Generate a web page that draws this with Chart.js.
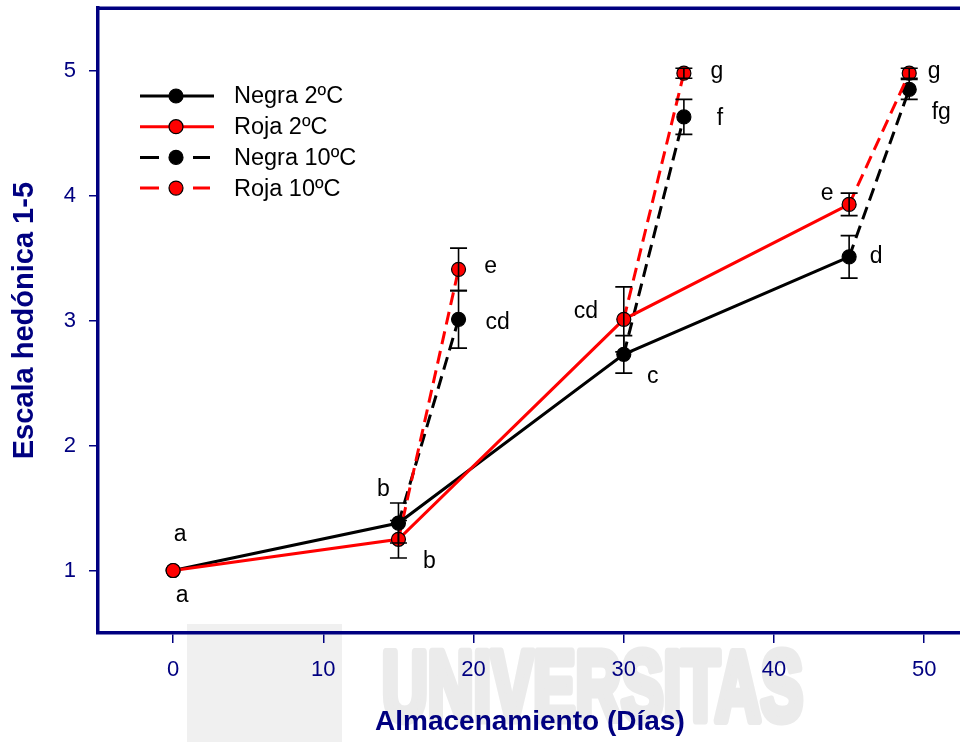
<!DOCTYPE html>
<html>
<head>
<meta charset="utf-8">
<script src="https://cdn.jsdelivr.net/npm/chart.js@4.4.1/dist/chart.umd.min.js"></script>
<style>
  html, body { margin: 0; padding: 0; background: #fff; overflow: hidden; }
  #box { width: 960px; height: 742px; overflow: hidden; }
</style>
</head>
<body>
<div id="box"><canvas id="chart" width="970" height="742"></canvas></div>
<script>
// storage days and hedonic scores (mean, error)
const days2 = [0, 15, 30, 45]
const negra2 = [1.0, 1.38, 2.73, 3.51]
const negra2Err = [0, 0.16, 0.15, 0.17]
const roja2 = [1.0, 1.25, 3.01, 3.93]
const roja2Err = [0, 0.15, 0.26, 0.09]

// 10ºC branches start at the 2ºC point of days 15, 30, 45
const days10 = [19, 34, 49]
const negra10 = [3.01, 4.63, 4.85]
const negra10Err = [0.23, 0.14, 0.08]
const roja10 = [3.41, 4.98, 4.98]
const roja10Err = [0.17, 0.04, 0.04]

// significance letters
const negra2Letters = ['a', 'b', 'c', 'd']
const roja2Letters = ['a', 'b', 'cd', 'e']
const negra10Letters = ['cd', 'f', 'fg']
const roja10Letters = ['e', 'g', 'g']

const xTicks = [0, 10, 20, 30, 40, 50]
const yTicks = [1, 2, 3, 4, 5]

// letter offsets in px (style only)
const negra2Off = [[7, -36], [-15, -33], [29, 22], [27, 0]]
const roja2Off = [[9, 25], [31, 22], [-38, -8], [-22, -11]]
const negra10Off = [[39, 3], [36, 2], [32, 23]]
const roja10Off = [[32, -3], [33, -2], [25, -2]]

const navy = '#000080'
const fontFamily = 'Arial, "Liberation Sans", sans-serif'

function line2(ys, errs, letters, offs) {
  return {
    data: days2.map((d, i) => ({ x: d, y: ys[i] })),
    errors: errs,
    letters: letters,
    offsets: offs
  }
}

function line10(base, ys, errs, letters, offs) {
  const data = [], e = [], l = [], o = []
  days10.forEach((d, i) => {
    data.push({ x: days2[i + 1], y: base[i + 1] }, { x: d, y: ys[i] })
    e.push(null, errs[i])
    l.push(null, letters[i])
    o.push(null, offs[i])
  })
  return { data: data, errors: e, letters: l, offsets: o }
}

const datasets = [
  Object.assign(line2(negra2, negra2Err, negra2Letters, negra2Off), {
    label: 'Negra 2ºC', borderColor: '#000', backgroundColor: '#000', borderDash: [], order: 1
  }),
  Object.assign(line2(roja2, roja2Err, roja2Letters, roja2Off), {
    label: 'Roja 2ºC', borderColor: '#ff0000', backgroundColor: '#ff0000', borderDash: [], order: 0
  }),
  Object.assign(line10(negra2, negra10, negra10Err, negra10Letters, negra10Off), {
    label: 'Negra 10ºC', borderColor: '#000', backgroundColor: '#000', borderDash: [13, 7], order: 3,
    pointRadius: [0, 7, 0, 7, 0, 7]
  }),
  Object.assign(line10(roja2, roja10, roja10Err, roja10Letters, roja10Off), {
    label: 'Roja 10ºC', borderColor: '#ff0000', backgroundColor: '#ff0000', borderDash: [13, 7], order: 2,
    pointRadius: [0, 7, 0, 7, 0, 7]
  })
]

datasets.forEach(ds => {
  ds.borderWidth = 3
  ds.pointBorderColor = '#000'
  ds.pointBorderWidth = 1.2
  if (ds.pointRadius === undefined) ds.pointRadius = 7
  ds.pointHoverRadius = ds.pointRadius
  const col = ds.borderColor
  ds.segment = {
    borderColor: ctx => (ds.borderDash.length && ctx.p0DataIndex % 2) ? 'rgba(0,0,0,0)' : col
  }
})

const watermark = {
  id: 'watermark',
  beforeDraw(chart) {
    const ctx = chart.ctx
    ctx.save()
    ctx.fillStyle = '#f0f0f0'
    ctx.fillRect(187, 624, 155, 118)
    ctx.fillStyle = '#ebebeb'
    ctx.strokeStyle = '#ebebeb'
    ctx.font = 'bold 98px Arial, "Liberation Sans", sans-serif'
    ctx.textBaseline = 'alphabetic'
    const w = ctx.measureText('UNIVERSITAS').width
    ctx.translate(382, 720)
    ctx.scale(421 / w, 1)
    ctx.lineWidth = 9
    ctx.lineJoin = 'round'
    ctx.fillText('UNIVERSITAS', 0, 0)
    ctx.strokeText('UNIVERSITAS', 0, 0)
    ctx.restore()
  }
}

const frameTop = {
  id: 'frameTop',
  beforeDatasetsDraw(chart) {
    const { ctx, chartArea } = chart
    ctx.save()
    ctx.strokeStyle = navy
    ctx.lineWidth = 3.5
    ctx.beginPath()
    ctx.moveTo(chartArea.left - 1.75, chartArea.top)
    ctx.lineTo(chartArea.right, chartArea.top)
    ctx.stroke()
    ctx.restore()
  }
}

const errorBars = {
  id: 'errorBars',
  afterDatasetsDraw(chart) {
    const ctx = chart.ctx, xs = chart.scales.x, ys = chart.scales.y
    ctx.save()
    ctx.strokeStyle = '#000'
    ctx.lineWidth = 1.6
    chart.data.datasets.forEach(ds => {
      ds.data.forEach((p, i) => {
        const e = ds.errors[i]
        if (!e) return
        const px = xs.getPixelForValue(p.x)
        const t = ys.getPixelForValue(p.y + e), b = ys.getPixelForValue(p.y - e)
        ctx.beginPath()
        ctx.moveTo(px, t); ctx.lineTo(px, b)
        ctx.moveTo(px - 8.5, t); ctx.lineTo(px + 8.5, t)
        ctx.moveTo(px - 8.5, b); ctx.lineTo(px + 8.5, b)
        ctx.stroke()
      })
    })
    ctx.restore()
  },
  afterDraw(chart) {
    // significance letters
    const ctx = chart.ctx, xs = chart.scales.x, ys = chart.scales.y
    ctx.save()
    ctx.fillStyle = '#000'
    ctx.font = '23px ' + fontFamily
    ctx.textAlign = 'center'
    ctx.textBaseline = 'middle'
    chart.data.datasets.forEach(ds => {
      ds.data.forEach((p, i) => {
        const l = ds.letters[i]
        if (!l) return
        const o = ds.offsets[i]
        ctx.fillText(l, xs.getPixelForValue(p.x) + o[0], ys.getPixelForValue(p.y) + o[1])
      })
    })
    ctx.restore()
  }
}

const sideLegend = {
  id: 'sideLegend',
  afterDraw(chart) {
    const ctx = chart.ctx
    ctx.save()
    chart.data.datasets.forEach((ds, i) => {
      const y = 96 + i * 30.7
      ctx.strokeStyle = ds.borderColor
      ctx.lineWidth = 3
      ctx.beginPath()
      if (ds.borderDash.length) {
        ctx.moveTo(140, y); ctx.lineTo(159, y)
        ctx.moveTo(193, y); ctx.lineTo(210, y)
      } else {
        ctx.moveTo(140, y); ctx.lineTo(214, y)
      }
      ctx.stroke()
      ctx.beginPath()
      ctx.arc(176, y, 7, 0, Math.PI * 2)
      ctx.fillStyle = ds.backgroundColor
      ctx.fill()
      ctx.lineWidth = 1.2
      ctx.strokeStyle = '#000'
      ctx.stroke()
      ctx.fillStyle = '#000'
      ctx.font = '23.5px ' + fontFamily
      ctx.textBaseline = 'middle'
      ctx.fillText(ds.label, 234, y + 1)
    })
    ctx.restore()
  }
}

new Chart(document.getElementById('chart').getContext('2d'), {
  type: 'line',
  data: { datasets: datasets },
  options: {
    responsive: false,
    animation: false,
    layout: { padding: { top: 8, right: 0, left: 0, bottom: 0 } },
    plugins: { legend: { display: false }, tooltip: { enabled: false } },
    scales: {
      x: {
        type: 'linear',
        min: -5,
        max: 52.5,
        afterBuildTicks: s => { s.ticks = xTicks.map(v => ({ value: v })) },
        afterFit: s => { s.height = 109; s.paddingLeft = 0; s.paddingRight = 0 },
        grid: { drawOnChartArea: false, color: navy, lineWidth: 1.5, tickLength: 10 },
        border: { color: navy, width: 3.5 },
        ticks: { color: navy, font: { size: 22, family: fontFamily }, padding: 14, maxRotation: 0 },
        title: {
          display: true, text: 'Almacenamiento (Días)', color: navy,
          font: { size: 28, weight: 'bold', family: fontFamily }, padding: { top: 0, bottom: 3 }
        }
      },
      y: {
        min: 0.5,
        max: 5.5,
        afterBuildTicks: s => { s.ticks = yTicks.map(v => ({ value: v })) },
        afterFit: s => { s.width = 98; s.paddingTop = 0; s.paddingBottom = 0 },
        grid: { drawOnChartArea: false, color: navy, lineWidth: 1.5, tickLength: 9 },
        border: { color: navy, width: 3.5 },
        ticks: { color: navy, font: { size: 22, family: fontFamily }, padding: 13 },
        title: {
          display: true, text: 'Escala hedónica 1-5', color: navy,
          font: { size: 29, weight: 'bold', family: fontFamily }, padding: { top: 8, bottom: 0 }
        }
      }
    }
  },
  plugins: [watermark, frameTop, errorBars, sideLegend]
})
</script>
</body>
</html>
